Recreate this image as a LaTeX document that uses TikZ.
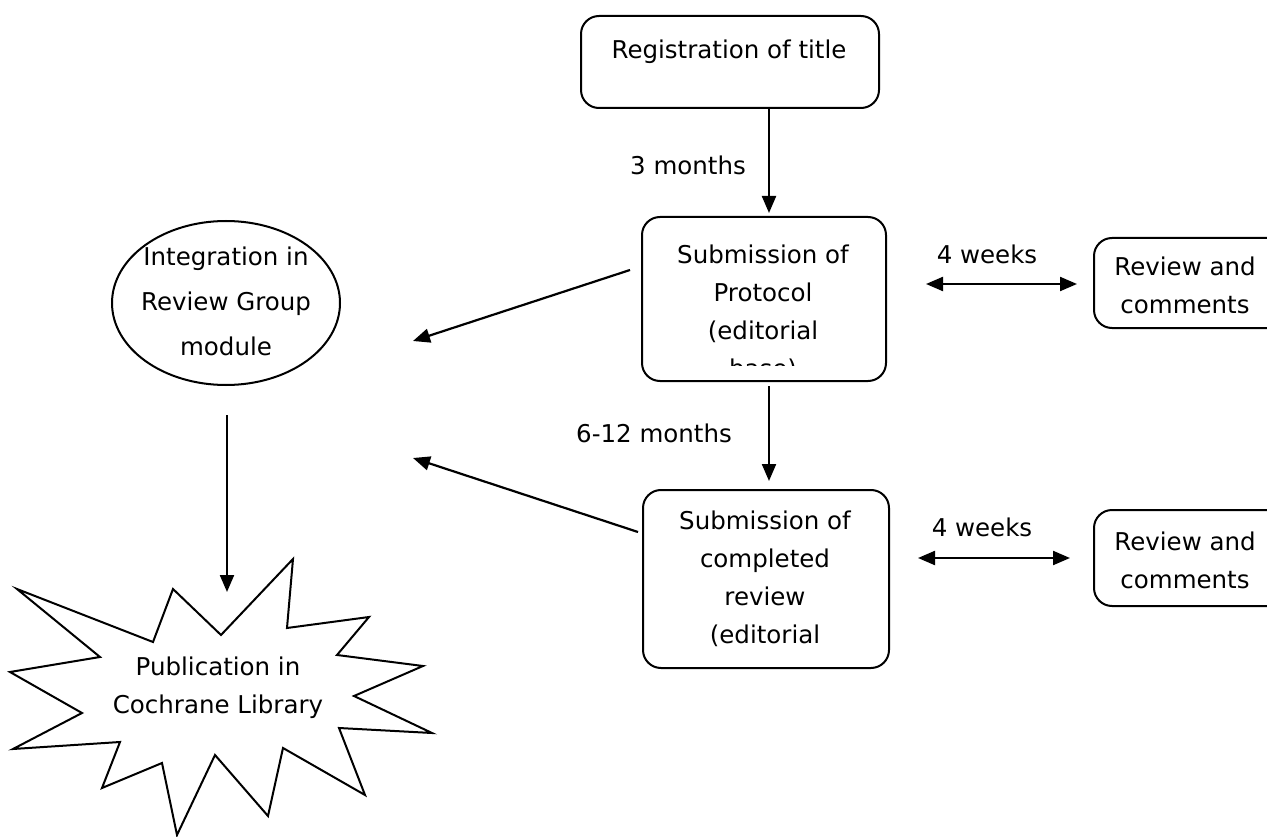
\documentclass[tikz,border=0pt]{standalone}
\usepackage{fontspec}
\setmainfont{DejaVu Sans}
\usetikzlibrary{arrows.meta,shapes.geometric}
\begin{document}
\begin{tikzpicture}[x=1pt,y=-1pt,
  box/.style={draw,line width=2pt,rounded corners=18pt,inner sep=0pt},
  lbl/.style={font=\fontsize{24.5}{38}\selectfont,align=center,inner sep=0pt},
  tip/.tip={Triangle[length=17pt,width=14pt]},
  conn/.style={line width=2.2pt,-tip},
  dconn/.style={line width=2.2pt,tip-tip}]
\useasboundingbox (0,0) rectangle (1267,837);
\clip (0,0) rectangle (1267,837);

% boxes
\node[box,anchor=north west,minimum width=298pt,minimum height=92pt] (reg) at (580,15) {};
\node[lbl] (regtext) at (729,52) {Registration of title};

\node[box,anchor=north west,minimum width=244pt,minimum height=164pt] (prot) at (641,216) {};
\begin{scope}
  \clip (641,216) rectangle (885,365);
  \node[lbl,anchor=north] (prottext) at (763,236.4) {\strut Submission of\\\strut Protocol\\\strut (editorial\\\strut base)};
\end{scope}

\node[box,anchor=north west,minimum width=246pt,minimum height=178pt] (comp) at (642,489) {};
\begin{scope}
  \clip (642,489) rectangle (888,655);
  \node[lbl,anchor=north] (comptext) at (765,503) {\strut Submission of\\\strut completed\\\strut review\\\strut (editorial\\\strut base)};
\end{scope}

\node[box,anchor=north west,minimum width=200pt,minimum height=90pt] (rev1) at (1093,237) {};
\node[lbl,anchor=north] (rev1text) at (1185,248.4) {\strut Review and\\\strut comments};

\node[box,anchor=north west,minimum width=200pt,minimum height=96pt] (rev2) at (1093,509) {};
\node[lbl,anchor=north] (rev2text) at (1185,524) {\strut Review and\\\strut comments};

\node[draw,line width=2pt,ellipse,minimum width=228pt,minimum height=164pt,inner sep=0pt] (integ) at (226,303) {};
\node[lbl,anchor=north,font=\fontsize{24.5}{45}\selectfont] (integtext) at (226,234) {\strut Integration in\\\strut Review Group\\\strut module};

% starburst
\draw[line width=2pt,line join=miter] (17,589) -- (153,642) -- (173,589) -- (221,635) -- (293,559) -- (287,628) -- (369,617) -- (337,655) -- (423,666) -- (354,696) -- (432,733) -- (339,728) -- (365,795) -- (283,748) -- (268,816) -- (215,755) -- (177,835) -- (162,763) -- (102,788) -- (120,742) -- (13,749) -- (82,713) -- (10,672) -- (100,657) -- cycle;
\node[lbl,anchor=north] (star) at (218,649) {\strut Publication in\\\strut Cochrane Library};

% labels
\node[lbl] (m3) at (688,165) {3 months};
\node[lbl] (m612) at (654,433) {6-12 months};
\node[lbl] (w1) at (987,254) {4 weeks};
\node[lbl] (w2) at (982,527) {4 weeks};

% connector end points
\coordinate (a1s) at (769,107);
\coordinate (a1e) at (769,213);
\coordinate (a2s) at (769,386);
\coordinate (a2e) at (769,481);
\coordinate (p1s) at (630,270);
\coordinate (p1e) at (413,341);
\coordinate (p2s) at (638,532);
\coordinate (p2e) at (413,458);
\coordinate (d1s) at (926,284);
\coordinate (d1e) at (1077,284);
\coordinate (d2s) at (918,558);
\coordinate (d2e) at (1070,558);
\coordinate (ies) at (227,415);
\coordinate (iee) at (227,592);

\draw[conn] (a1s) -- (a1e);
\draw[conn] (a2s) -- (a2e);
\draw[conn] (p1s) -- (p1e);
\draw[conn] (p2s) -- (p2e);
\draw[dconn] (d1s) -- (d1e);
\draw[dconn] (d2s) -- (d2e);
\draw[conn] (ies) -- (iee);
\end{tikzpicture}
\end{document}
